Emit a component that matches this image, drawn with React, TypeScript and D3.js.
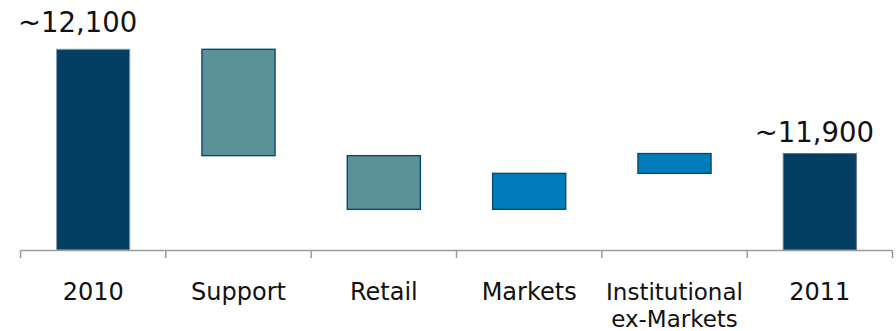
import React from "react";
import * as d3 from "d3";

const categories = ["2010", "Support", "Retail", "Markets", "Institutional\nex-Markets", "2011"];
const kinds = ["total", "delta", "delta", "delta", "delta", "total"];
const values = [12100, -204, -103, 69, 38, 11900];
const totalLabels = ["~12,100", "", "", "", "", "~11,900"];
const barColors = ["#033F63", "#5B9199", "#5B9199", "#017CBB", "#017CBB", "#033F63"];
const barStrokes = ["#8799a6", "#0b4a6f", "#0b4a6f", "#0b4a6f", "#0b4a6f", "#5f7585"];

const W = 896;
const H = 331;

export default function App() {
  const x = d3
    .scaleBand<string>()
    .domain(categories)
    .range([20.5, 892.5])
    .paddingInner(0.49)
    .paddingOuter(0.245);
  const y = d3.scaleLinear().domain([11715, 12100]).range([250, 49.3]);
  const step = x.step();

  let running = 0;
  const segs = categories.map((c, i) => {
    if (kinds[i] === "total") {
      running = values[i];
      return { c, lo: y.domain()[0], hi: values[i] };
    }
    const start = running;
    running += values[i];
    return { c, lo: Math.min(start, running), hi: Math.max(start, running) };
  });

  const labelOffsets = [
    { dx: -15.5, dy: -17.5 },
    { dx: 0, dy: 0 },
    { dx: 0, dy: 0 },
    { dx: 0, dy: 0 },
    { dx: 0, dy: 0 },
    { dx: -5.5, dy: -12 },
  ];

  const ticks = d3.range(categories.length + 1).map((i) => x.range()[0] + i * step);
  const font = "'DejaVu Sans', Verdana, sans-serif";

  return (
    <svg
      width={W}
      height={H}
      style={{ position: "absolute", left: 0, top: 0, background: "#fff" }}
    >
      {segs.map((s, i) => (
        <rect
          key={s.c}
          x={(x(s.c) as number) + 0.5}
          y={y(s.hi)}
          width={x.bandwidth() - 1}
          height={y(s.lo) - y(s.hi)}
          fill={barColors[i]}
          stroke={barStrokes[i]}
          strokeWidth={kinds[i] === "total" ? 1 : 1.4}
        />
      ))}
      <line x1={x.range()[0]} x2={x.range()[1]} y1={250.5} y2={250.5} stroke="#9a9a9a" strokeWidth={1.5} />
      {ticks.map((t, i) => (
        <line key={i} x1={t} x2={t} y1={250.5} y2={258} stroke="#9a9a9a" strokeWidth={1.5} />
      ))}
      {categories.map((c) => {
        const lines = c.split("\n");
        const multi = lines.length > 1;
        return lines.map((l, j) => (
          <text
            key={c + j}
            x={(x(c) as number) + x.bandwidth() / 2}
            y={300 + j * 27}
            textAnchor="middle"
            fontFamily={font}
            fontSize={multi ? 23 : 24}
            fill="#111"
          >
            {l}
          </text>
        ));
      })}
      {segs.map((s, i) =>
        totalLabels[i] ? (
          <text
            key={"l" + i}
            x={(x(s.c) as number) + x.bandwidth() / 2 + labelOffsets[i].dx}
            y={y(s.hi) + labelOffsets[i].dy}
            textAnchor="middle"
            fontFamily={font}
            fontSize={27.5}
            fill="#111"
          >
            {totalLabels[i]}
          </text>
        ) : null
      )}
    </svg>
  );
}
